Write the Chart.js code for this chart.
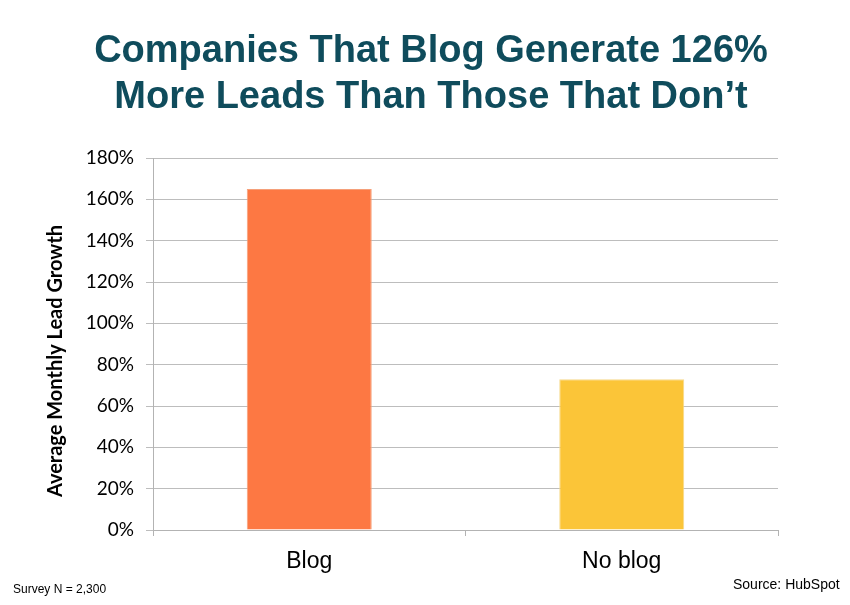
<!DOCTYPE html>
<html>
<head>
<meta charset="utf-8">
<script src="https://cdn.jsdelivr.net/npm/chart.js@4/dist/chart.umd.min.js"></script>
<style>
  html, body { margin: 0; padding: 0; background: #ffffff; }
  #wrap { position: relative; width: 850px; height: 605px; overflow: hidden; }
  #c { position: absolute; left: 0; top: 0; }
  .title { position: absolute; left: 0; width: 862px; text-align: center; font-family: "Liberation Sans", Arial, sans-serif; font-weight: bold; font-size: 38px; color: #0f4c5c; line-height: 46px; top: 26px; white-space: nowrap; }
  .foot { position: absolute; font-family: "Liberation Sans", Arial, sans-serif; color: #000; white-space: nowrap; }
</style>
</head>
<body>
<div id="wrap">
  <canvas id="c" width="850" height="605"></canvas>
  <div class="title">Companies That Blog Generate 126%<br>More Leads Than Those That Don’t</div>
  <div class="foot" style="left:13px; top:582px; font-size:12px;">Survey N = 2,300</div>
  <div class="foot" style="left:733px; top:576px; font-size:14px;">Source: HubSpot</div>
</div>
<script>
const categories = ["Blog", "No blog"];
const leadGrowth = [165, 73];
const barColors = ["#fd7843", "#fbc538"];
const yAxisTitle = "Average Monthly Lead Growth";

new Chart(document.getElementById("c"), {
  type: "bar",
  data: {
    labels: categories,
    datasets: [{
      data: leadGrowth,
      backgroundColor: barColors,
      borderColor: ["#f5a07a", "#f6d98a"],
      borderWidth: 1,
      categoryPercentage: 1.0,
      barPercentage: 0.4
    }]
  },
  options: {
    responsive: false,
    animation: false,
    layout: { padding: { top: 158, right: 72, left: 0, bottom: 0 } },
    plugins: { legend: { display: false }, tooltip: { enabled: false }, title: { display: false } },
    scales: {
      x: {
        afterFit: (s) => { s.height = 75; },
        grid: { display: true, drawOnChartArea: false, drawTicks: true, tickLength: 6, color: "#b3b3b3", offset: true },
        border: { display: true, color: "#b3b3b3", width: 1 },
        ticks: { color: "#000", padding: 12, font: { family: "Liberation Sans", size: 23 } }
      },
      y: {
        min: 0, max: 180,
        afterFit: (s) => { s.width = 153; },
        grid: { color: "#bdbdbd", tickLength: 7, lineWidth: 1 },
        border: { display: true, color: "#b3b3b3" },
        ticks: { stepSize: 20, padding: 12, color: "#000", font: { family: "Lato", size: 19 }, callback: (v) => v + "%" },
        title: { display: true, text: yAxisTitle + "\u00a0\u00a0\u00a0\u00a0\u00a0\u00a0\u00a0", color: "#000", font: { family: "Lato", size: 20, weight: "bold" }, padding: { top: 44, bottom: 0 } }
      }
    }
  }
});
</script>
</body>
</html>
